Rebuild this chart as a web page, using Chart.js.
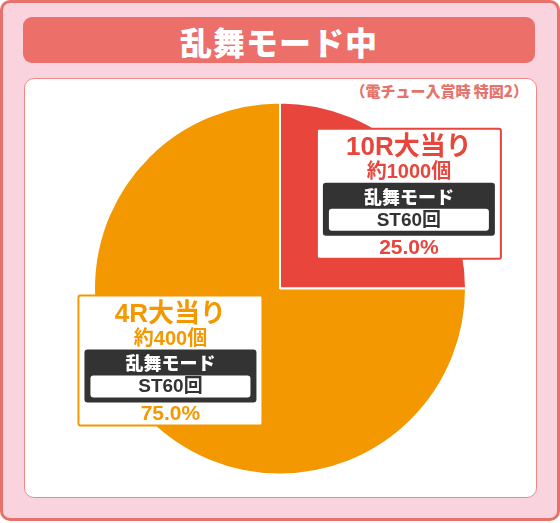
<!DOCTYPE html>
<html lang="ja">
<head>
<meta charset="utf-8">
<script src="https://cdn.jsdelivr.net/npm/chart.js@4"></script>
<style>
  html, body { margin: 0; padding: 0; background: #fff; }
  body { width: 560px; height: 523px; position: relative; overflow: hidden;
         font-family: "Noto Sans CJK JP", "Noto Sans", sans-serif; }
  .card { position: absolute; left: 0; top: 0; width: 554px; height: 515px;
          background: #f9d3de; border: 3px solid #e8716b; border-radius: 10px; }
  .banner { position: absolute; left: 23px; top: 17px; width: 512px; height: 46px;
            background: #ec6f6a; border-radius: 9px; color: #fff; font-weight: 900;
            font-size: 32px; line-height: 48px; text-align: center; letter-spacing: 1px; }
  .panel { position: absolute; left: 24px; top: 78px; width: 511px; height: 418px;
           background: #fff; border: 1.5px solid #ee8a86; border-radius: 10px; }
  .note { position: absolute; right: 32px; top: 80px; color: #e5736c; font-weight: 900;
          font-size: 15px; }
  #pie { position: absolute; left: 0; top: 0; }
</style>
</head>
<body>
<div class="card"></div>
<div class="banner">乱舞モード中</div>
<div class="panel"></div>
<div class="note">（電チュー入賞時 特図2）</div>
<canvas id="pie" width="560" height="523"></canvas>
<script>
// データ
const categories = ['10R大当り', '4R大当り'];
const shares = [25.0, 75.0];
const payouts = ['約1000個', '約400個'];
const modes = ['乱舞モード', '乱舞モード'];
const stCounts = ['ST60回', 'ST60回'];

// 色とラベル位置 (半径比)
const colors = ['#e8453c', '#f39800'];
const boxOffsets = [[0.693, -0.509], [-0.589, 0.387]];
const fam = '"Liberation Sans", "Noto Sans CJK JP"';

function roundRect(ctx, x, y, w, h, r) {
  ctx.beginPath();
  ctx.roundRect(x, y, w, h, r);
}

const labelBoxes = {
  id: 'labelBoxes',
  afterDatasetsDraw(chart) {
    const ctx = chart.ctx;
    const arcs = chart.getDatasetMeta(0).data;
    arcs.forEach((arc, i) => {
      const r = arc.outerRadius;
      const cx = arc.x + boxOffsets[i][0] * r;
      const cy = arc.y + boxOffsets[i][1] * r;
      const w = 184, h = 130;
      const x = cx - w / 2, y = cy - h / 2;
      ctx.save();
      // 枠
      ctx.fillStyle = '#fff';
      ctx.strokeStyle = colors[i];
      ctx.lineWidth = 2;
      roundRect(ctx, x, y, w, h, 2);
      ctx.fill();
      ctx.stroke();

      ctx.textAlign = 'center';
      ctx.textBaseline = 'middle';
      ctx.fillStyle = colors[i];
      ctx.font = '700 26px ' + fam;
      ctx.fillText(categories[i], cx, y + 19);
      ctx.font = '700 20px ' + fam;
      ctx.fillText(payouts[i], cx, y + 44);

      // モード欄
      ctx.fillStyle = '#333';
      roundRect(ctx, x + 6, y + 54, w - 12, 53, 3);
      ctx.fill();
      ctx.fillStyle = '#fff';
      ctx.font = '900 18px "Noto Sans CJK JP"';
      ctx.fillText(modes[i], cx, y + 68);
      roundRect(ctx, x + 12, y + 80, w - 24, 22, 3);
      ctx.fill();
      ctx.fillStyle = '#333';
      ctx.font = '700 19px ' + fam;
      ctx.fillText(stCounts[i], cx, y + 91.5);

      ctx.fillStyle = colors[i];
      ctx.font = '700 21px ' + fam;
      ctx.fillText(shares[i].toFixed(1) + '%', cx, y + 119);
      ctx.restore();
    });
  }
};

new Chart(document.querySelector('#pie'), {
  type: 'pie',
  data: {
    labels: categories,
    datasets: [{
      data: shares,
      backgroundColor: colors,
      borderColor: '#fff',
      borderWidth: 2
    }]
  },
  options: {
    responsive: false,
    animation: false,
    layout: { padding: { top: 101, bottom: 47, left: 93, right: 93 } },
    plugins: {
      legend: { display: false },
      tooltip: { enabled: false }
    }
  },
  plugins: [labelBoxes]
});
</script>
</body>
</html>
